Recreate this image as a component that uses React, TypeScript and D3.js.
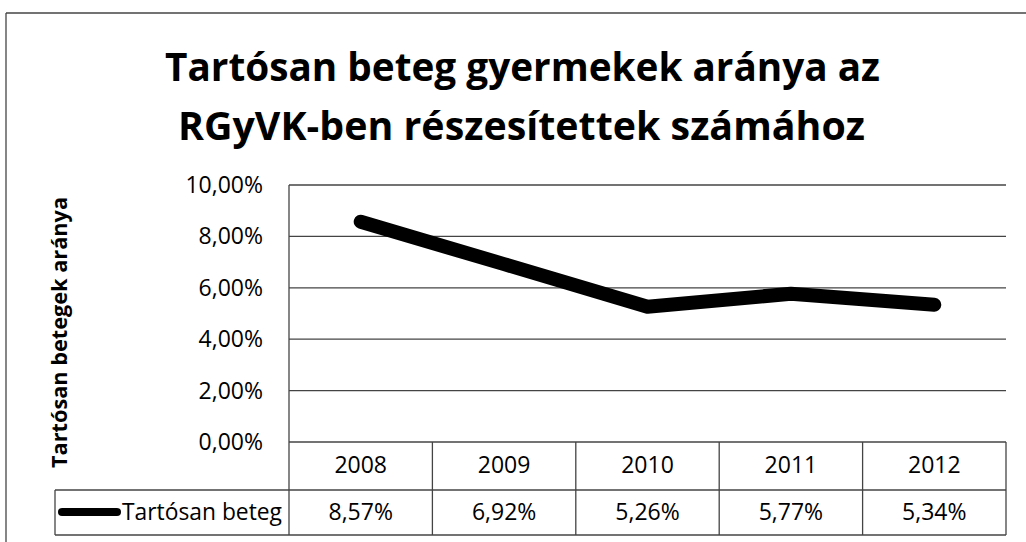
import React from "react";
import * as d3 from "d3";

const years = ["2008", "2009", "2010", "2011", "2012"];
const values = [8.57, 6.92, 5.26, 5.77, 5.34];
const valueLabels = ["8,57%", "6,92%", "5,26%", "5,77%", "5,34%"];
const yTicks = [0, 2, 4, 6, 8, 10];
const seriesName = "Tartósan beteg";
const titleLines = ["Tartósan beteg gyermekek aránya az", "RGyVK-ben részesítettek számához"];
const yAxisTitle = "Tartósan betegek aránya";

const W = 1026;
const H = 542;
const plotLeft = 289;
const plotRight = 1006;
const plotTop = 185;
const plotBottom = 442;
const tableRow1 = 490;
const tableBottom = 535;
const legendLeft = 55;
const font = "'Open Sans', 'Noto Sans', sans-serif";
const gridColor = "#444";

const titleLayout = [
  { cx: 522.5, y: 81, len: 715 },
  { cx: 521.5, y: 140, len: 687 },
];

export default function App() {
  const x = d3.scaleBand<string>().domain(years).range([plotLeft, plotRight]);
  const y = d3.scaleLinear().domain([0, 10]).range([plotBottom, plotTop]);
  const line = d3
    .line<number>()
    .x((_, i) => (x(years[i]) as number) + x.bandwidth() / 2)
    .y((d) => y(d))
    .curve(d3.curveLinear);
  const fmt = (v: number) => d3.format(".2f")(v).replace(".", ",") + "%";

  return (
    <svg
      width={W}
      height={H}
      style={{ position: "absolute", left: 0, top: 0, background: "#fff" }}
      fontFamily={font}
    >
      <rect x={0} y={0} width={W} height={H} fill="#fff" />
      {/* outer chart border */}
      <line x1={6} y1={13} x2={W} y2={13} stroke={gridColor} strokeWidth={1.3} />
      <line x1={6} y1={13} x2={6} y2={H} stroke={gridColor} strokeWidth={1.3} />

      {/* title */}
      {titleLines.map((t, i) => (
        <text
          key={t}
          x={titleLayout[i].cx}
          y={titleLayout[i].y}
          textAnchor="middle"
          fontSize={39}
          fontWeight={700}
          fill="#000"
          textLength={titleLayout[i].len}
          lengthAdjust="spacingAndGlyphs"
        >
          {t}
        </text>
      ))}

      {/* y axis title */}
      <text
        transform={`translate(${67},${332.5}) rotate(-90)`}
        textAnchor="middle"
        fontSize={21}
        fontWeight={700}
        fill="#000"
        textLength={271}
        lengthAdjust="spacingAndGlyphs"
      >
        {yAxisTitle}
      </text>

      {/* gridlines and tick labels */}
      {yTicks.map((t) => (
        <g key={t}>
          <line x1={plotLeft} x2={plotRight} y1={y(t)} y2={y(t)} stroke={gridColor} strokeWidth={1.3} />
          <text x={263} y={y(t) + 8} textAnchor="end" fontSize={23} fill="#000">
            {fmt(t)}
          </text>
        </g>
      ))}

      {/* vertical axis */}
      <line x1={plotLeft} x2={plotLeft} y1={plotTop} y2={tableBottom} stroke={gridColor} strokeWidth={1.3} />

      {/* data table */}
      <line x1={legendLeft} x2={plotRight} y1={tableRow1} y2={tableRow1} stroke={gridColor} strokeWidth={1.3} />
      <line x1={legendLeft} x2={plotRight} y1={tableBottom} y2={tableBottom} stroke={gridColor} strokeWidth={1.3} />
      <line x1={legendLeft} x2={legendLeft} y1={tableRow1} y2={tableBottom} stroke={gridColor} strokeWidth={1.3} />
      {years.map((yr) => (
        <line
          key={"v" + yr}
          x1={(x(yr) as number) + x.bandwidth()}
          x2={(x(yr) as number) + x.bandwidth()}
          y1={plotBottom}
          y2={tableBottom}
          stroke={gridColor}
          strokeWidth={1.3}
        />
      ))}
      {years.map((yr, i) => (
        <g key={"c" + yr}>
          <text
            x={(x(yr) as number) + x.bandwidth() / 2}
            y={473}
            textAnchor="middle"
            fontSize={23}
            fill="#000"
          >
            {yr}
          </text>
          <text
            x={(x(yr) as number) + x.bandwidth() / 2}
            y={520}
            textAnchor="middle"
            fontSize={23}
            fill="#000"
          >
            {valueLabels[i]}
          </text>
        </g>
      ))}
      {/* legend key in table */}
      <line x1={62} x2={117} y1={512} y2={512} stroke="#000" strokeWidth={8} strokeLinecap="round" />
      <text x={122} y={520} fontSize={23} fill="#000" textLength={160} lengthAdjust="spacingAndGlyphs">
        {seriesName}
      </text>

      {/* series line */}
      <path
        d={line(values) || ""}
        fill="none"
        stroke="#000"
        strokeWidth={14}
        strokeLinecap="round"
        strokeLinejoin="round"
      />
    </svg>
  );
}
